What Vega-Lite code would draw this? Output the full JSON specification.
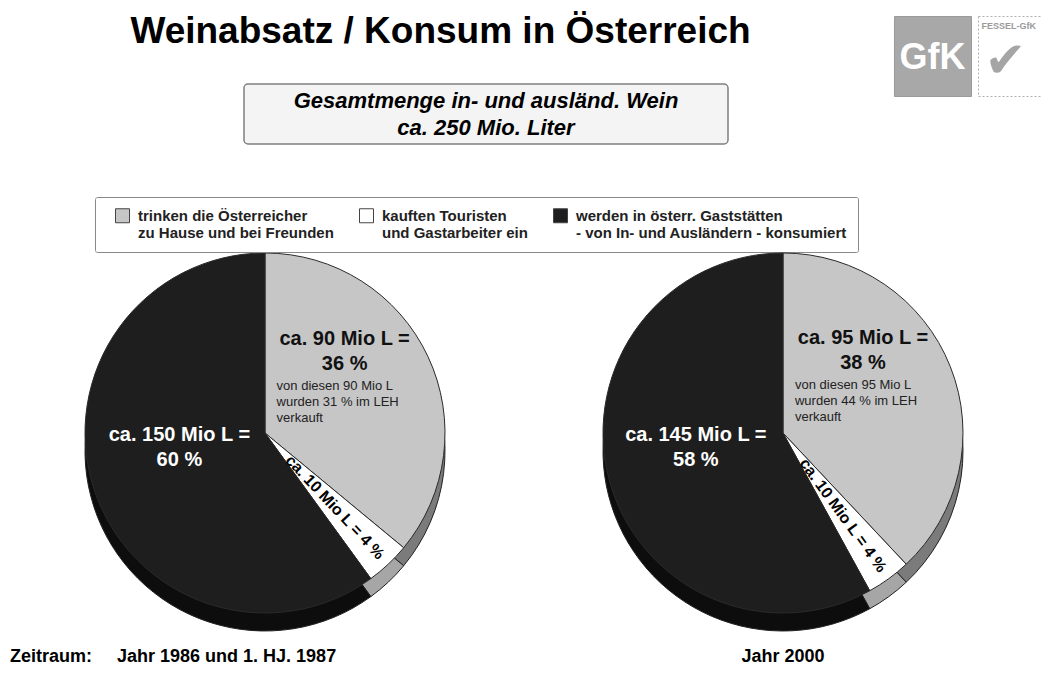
{
  "$schema": "https://vega.github.io/schema/vega-lite/v6.json",
  "background": "white",
  "padding": 0,
  "spacing": 51,
  "datasets": {
    "wein": [
      {"zeitraum": "Jahr 1986 und 1. HJ. 1987", "verwendung": "trinken die Österreicher zu Hause und bei Freunden", "rang": 1, "mio_liter": 90, "anteil": 36, "leh_anteil": 31},
      {"zeitraum": "Jahr 1986 und 1. HJ. 1987", "verwendung": "kauften Touristen und Gastarbeiter ein", "rang": 2, "mio_liter": 10, "anteil": 4, "leh_anteil": null},
      {"zeitraum": "Jahr 1986 und 1. HJ. 1987", "verwendung": "werden in österr. Gaststätten - von In- und Ausländern - konsumiert", "rang": 3, "mio_liter": 150, "anteil": 60, "leh_anteil": null},
      {"zeitraum": "Jahr 2000", "verwendung": "trinken die Österreicher zu Hause und bei Freunden", "rang": 1, "mio_liter": 95, "anteil": 38, "leh_anteil": 44},
      {"zeitraum": "Jahr 2000", "verwendung": "kauften Touristen und Gastarbeiter ein", "rang": 2, "mio_liter": 10, "anteil": 4, "leh_anteil": null},
      {"zeitraum": "Jahr 2000", "verwendung": "werden in österr. Gaststätten - von In- und Ausländern - konsumiert", "rang": 3, "mio_liter": 145, "anteil": 58, "leh_anteil": null}
    ],
    "kopf": [
      {"titel": "Weinabsatz / Konsum in Österreich", "gesamt": ["Gesamtmenge in- und ausländ. Wein", "ca. 250 Mio. Liter"]}
    ]
  },
  "vconcat": [
    {
      "spacing": 12,
      "hconcat": [
        {
          "spacing": 19,
          "vconcat": [
            {
              "width": 881, "height": 64,
              "data": {"name": "kopf"},
              "mark": {"type": "text", "fontSize": 37, "fontWeight": "bold", "color": "#000000"},
              "encoding": {"text": {"field": "titel", "type": "nominal"}}
            },
            {
              "spacing": 0,
              "hconcat": [
                {
                  "width": 243, "height": 60,
                  "data": {"values": [{}]},
                  "mark": {"type": "point", "size": 0, "opacity": 0},
                  "encoding": {}
                },
                {
                  "width": 484, "height": 60,
                  "view": {"stroke": "#7f7f7f", "strokeWidth": 1.5, "fill": "#f4f4f4", "cornerRadius": 4},
                  "data": {"name": "kopf"},
                  "mark": {"type": "text", "fontSize": 22, "fontWeight": "bold", "fontStyle": "italic", "lineHeight": 27, "color": "#000000", "dy": -13},
                  "encoding": {"text": {"field": "gesamt", "type": "nominal"}}
                }
              ]
            }
          ]
        },
        {
          "spacing": 14,
          "vconcat": [
            {
              "width": 1, "height": 1,
              "data": {"values": [{}]},
              "mark": {"type": "point", "size": 0, "opacity": 0},
              "encoding": {}
            },
            {
              "spacing": 5,
              "hconcat": [
                {
                  "width": 77, "height": 80,
                  "view": {"fill": "#a8a8a8", "stroke": "#9a9a9a"},
                  "data": {"values": [{"logo": "GfK"}]},
                  "mark": {"type": "text", "fontSize": 36, "fontWeight": "bold", "color": "white", "dy": 2},
                  "encoding": {"text": {"field": "logo", "type": "nominal"}}
                },
                {
                  "width": 67, "height": 80,
                  "view": {"fill": "white", "stroke": "#b0b0b0", "strokeDash": [2, 2]},
                  "data": {"values": [{"name": "FESSEL-GfK", "zeichen": "✔"}]},
                  "layer": [
                    {
                      "mark": {"type": "text", "fontSize": 9, "fontWeight": "bold", "color": "#9a9a9a", "align": "left", "dx": -30, "dy": -30},
                      "encoding": {"text": {"field": "name", "type": "nominal"}}
                    },
                    {
                      "mark": {"type": "text", "font": "DejaVu Sans", "fontSize": 50, "color": "#a5a5a5", "dx": -6, "dy": 6},
                      "encoding": {"text": {"field": "zeichen", "type": "nominal"}}
                    }
                  ]
                }
              ]
            }
          ]
        }
      ]
    },
    {
      "bounds": "flush",
      "spacing": 0,
      "resolve": {"scale": {"color": "independent"}},
      "hconcat": [
        {
          "width": 530, "height": 364,
          "data": {"name": "wein"},
          "transform": [
            {"filter": "datum.zeitraum == 'Jahr 1986 und 1. HJ. 1987'"},
            {"calculate": "['ca. ' + datum.mio_liter + ' Mio L =', datum.anteil + ' %']", "as": "label_gross"},
            {"calculate": "['von diesen ' + datum.mio_liter + ' Mio L', 'wurden ' + datum.leh_anteil + ' % im LEH', 'verkauft']", "as": "label_leh"},
            {"calculate": "'ca. ' + datum.mio_liter + ' Mio L = ' + datum.anteil + ' %'", "as": "label_linie"}
          ],
          "title": {"text": "Zeitraum:\u00a0\u00a0\u00a0\u00a0\u00a0Jahr 1986 und 1. HJ. 1987", "orient": "bottom", "anchor": "start", "dx": 10, "offset": 15, "fontSize": 18, "fontWeight": "bold", "color": "#000000"},
          "encoding": {
            "theta": {"field": "anteil", "type": "quantitative", "stack": true},
            "order": {"field": "rang", "type": "quantitative"}
          },
          "layer": [
            {
              "mark": {"type": "arc", "radius": 180, "yOffset": 18, "stroke": "#222222", "strokeWidth": 1},
              "encoding": {"color": {"condition": [{"test": "datum.rang == 1", "value": "#7b7b7b"}, {"test": "datum.rang == 2", "value": "#a6a6a6"}], "value": "#0d0d0d"}}
            },
            {
              "mark": {"type": "arc", "radius": 180, "stroke": "#2a2a2a", "strokeWidth": 1},
              "encoding": {
                "color": {
                  "field": "verwendung", "type": "nominal",
                  "scale": {"domain": ["trinken die Österreicher zu Hause und bei Freunden", "kauften Touristen und Gastarbeiter ein", "werden in österr. Gaststätten - von In- und Ausländern - konsumiert"], "range": ["#c6c6c6", "#ffffff", "#1e1e1e"]},
                  "legend": {
                    "orient": "none", "legendX": 95, "legendY": -54, "direction": "horizontal", "columns": 3, "title": null,
                    "symbolType": "square", "symbolSize": 196, "symbolStrokeColor": "#444444", "symbolStrokeWidth": 1, "symbolOffset": 9,
                    "labelFontSize": 15, "labelFontWeight": "bold", "labelColor": "#222222", "labelLimit": 400, "labelOffset": 8,
                    "labelExpr": "datum.label == 'trinken die Österreicher zu Hause und bei Freunden' ? ['trinken die Österreicher', 'zu Hause und bei Freunden'] : datum.label == 'kauften Touristen und Gastarbeiter ein' ? ['kauften Touristen', 'und Gastarbeiter ein'] : ['werden in österr. Gaststätten', '- von In- und Ausländern - konsumiert']",
                    "columnPadding": 16, "padding": 11, "strokeColor": "#888888", "fillColor": "white", "cornerRadius": 2
                  }
                }
              }
            },
            {
              "mark": {"type": "text", "radius": 88, "dy": -57, "fontSize": 20, "fontWeight": "bold", "lineHeight": 25, "color": "#111111"},
              "encoding": {"text": {"condition": {"test": "datum.rang == 1", "field": "label_gross", "type": "nominal"}, "value": ""}}
            },
            {
              "mark": {"type": "text", "radius": 88, "dx": -68, "dy": -16, "align": "left", "baseline": "top", "fontSize": 13, "lineHeight": 16, "color": "#222222"},
              "encoding": {"text": {"condition": {"test": "datum.rang == 1", "field": "label_leh", "type": "nominal"}, "value": ""}}
            },
            {
              "mark": {"type": "text", "radius": 102, "angle": 46.8, "fontSize": 16, "fontWeight": "bold", "color": "#000000"},
              "encoding": {"text": {"condition": {"test": "datum.rang == 2", "field": "label_linie", "type": "nominal"}, "value": ""}}
            },
            {
              "mark": {"type": "text", "radius": 90, "dy": -26, "fontSize": 20, "fontWeight": "bold", "lineHeight": 25, "color": "#ffffff"},
              "encoding": {"text": {"condition": {"test": "datum.rang == 3", "field": "label_gross", "type": "nominal"}, "value": ""}}
            }
          ]
        },
        {
          "width": 506, "height": 364,
          "data": {"name": "wein"},
          "transform": [
            {"filter": "datum.zeitraum == 'Jahr 2000'"},
            {"calculate": "['ca. ' + datum.mio_liter + ' Mio L =', datum.anteil + ' %']", "as": "label_gross"},
            {"calculate": "['von diesen ' + datum.mio_liter + ' Mio L', 'wurden ' + datum.leh_anteil + ' % im LEH', 'verkauft']", "as": "label_leh"},
            {"calculate": "'ca. ' + datum.mio_liter + ' Mio L = ' + datum.anteil + ' %'", "as": "label_linie"}
          ],
          "title": {"text": "Jahr 2000", "orient": "bottom", "anchor": "middle", "offset": 15, "fontSize": 18, "fontWeight": "bold", "color": "#000000"},
          "encoding": {
            "theta": {"field": "anteil", "type": "quantitative", "stack": true},
            "order": {"field": "rang", "type": "quantitative"}
          },
          "layer": [
            {
              "mark": {"type": "arc", "radius": 180, "yOffset": 18, "stroke": "#222222", "strokeWidth": 1},
              "encoding": {"color": {"condition": [{"test": "datum.rang == 1", "value": "#7b7b7b"}, {"test": "datum.rang == 2", "value": "#a6a6a6"}], "value": "#0d0d0d"}}
            },
            {
              "mark": {"type": "arc", "radius": 180, "stroke": "#2a2a2a", "strokeWidth": 1},
              "encoding": {
                "color": {
                  "field": "verwendung", "type": "nominal",
                  "scale": {"domain": ["trinken die Österreicher zu Hause und bei Freunden", "kauften Touristen und Gastarbeiter ein", "werden in österr. Gaststätten - von In- und Ausländern - konsumiert"], "range": ["#c6c6c6", "#ffffff", "#1e1e1e"]},
                  "legend": null
                }
              }
            },
            {
              "mark": {"type": "text", "radius": 86, "dy": -63, "fontSize": 20, "fontWeight": "bold", "lineHeight": 25, "color": "#111111"},
              "encoding": {"text": {"condition": {"test": "datum.rang == 1", "field": "label_gross", "type": "nominal"}, "value": ""}}
            },
            {
              "mark": {"type": "text", "radius": 86, "dx": -68, "dy": -22, "align": "left", "baseline": "top", "fontSize": 13, "lineHeight": 16, "color": "#222222"},
              "encoding": {"text": {"condition": {"test": "datum.rang == 1", "field": "label_leh", "type": "nominal"}, "value": ""}}
            },
            {
              "mark": {"type": "text", "radius": 102, "angle": 54, "fontSize": 16, "fontWeight": "bold", "color": "#000000"},
              "encoding": {"text": {"condition": {"test": "datum.rang == 2", "field": "label_linie", "type": "nominal"}, "value": ""}}
            },
            {
              "mark": {"type": "text", "radius": 90, "dy": -20, "fontSize": 20, "fontWeight": "bold", "lineHeight": 25, "color": "#ffffff"},
              "encoding": {"text": {"condition": {"test": "datum.rang == 3", "field": "label_gross", "type": "nominal"}, "value": ""}}
            }
          ]
        }
      ]
    }
  ],
  "config": {
    "font": "Liberation Sans",
    "view": {"stroke": null}
  }
}
